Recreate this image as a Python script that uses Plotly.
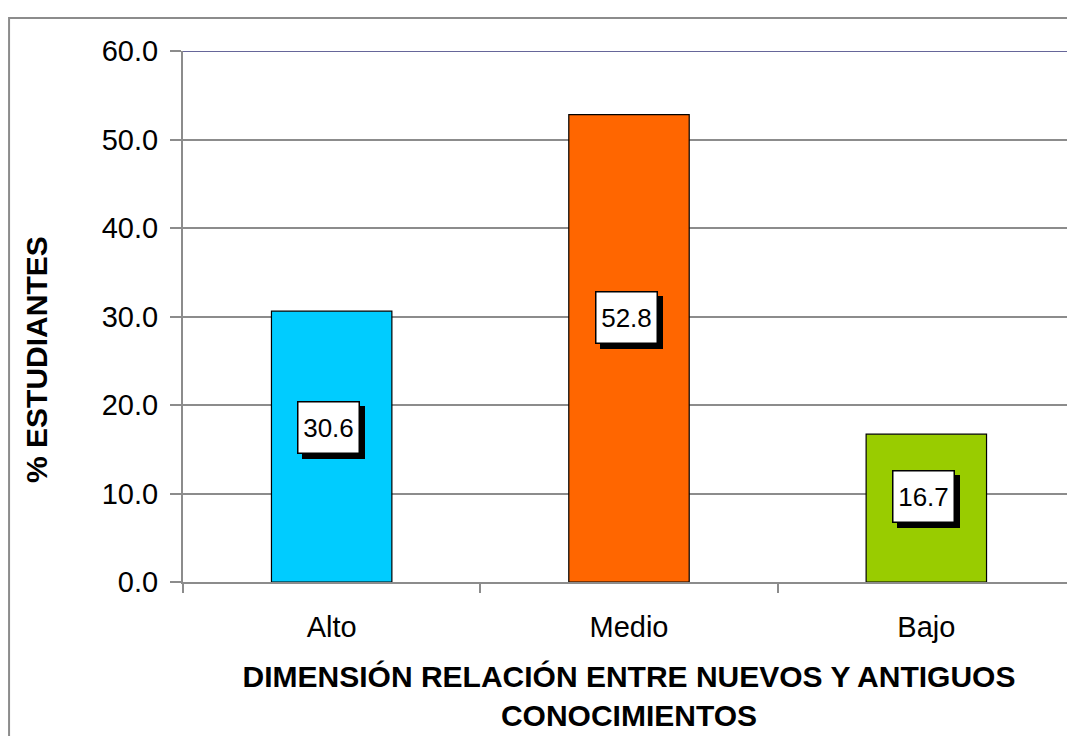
import plotly.graph_objects as go

categories = ["Alto", "Medio", "Bajo"]
values = [30.6, 52.8, 16.7]
colors = ["#00CCFF", "#FF6600", "#99CC00"]
label_texts = ["30.6", "52.8", "16.7"]
y_ticks = [0, 10, 20, 30, 40, 50, 60]

FONT = "Liberation Sans, Arial, sans-serif"

fig = go.Figure()
fig.add_trace(go.Bar(
    x=categories, y=values,
    marker=dict(color=colors, line=dict(color="#000000", width=1.2)),
    width=0.405,
    hoverinfo="skip",
))

annotations = []
for cat, v, t in zip(categories, values, label_texts):
    ly = v * 0.56
    common = dict(x=cat, y=ly, xref="x", yref="y", text=t, showarrow=False,
                  font=dict(family=FONT, size=26, color="#000000"),
                  width=58, height=48, borderwidth=1.5, borderpad=1,
                  bordercolor="#000000")
    # shadow
    annotations.append(dict(common, bgcolor="#000000", xshift=2, yshift=-2))
    annotations.append(dict(common, bgcolor="#FFFFFF", xshift=-3, yshift=3))

annotations.append(dict(
    xref="paper", yref="paper", x=-0.1637, y=0.42,
    text="<b>% ESTUDIANTES</b>", textangle=-90, showarrow=False,
    font=dict(size=30, family=FONT, color="#000000"),
    xanchor="center", yanchor="middle",
))

fig.update_layout(
    width=1067, height=728,
    margin=dict(l=175, r=0, t=43, b=154),
    paper_bgcolor="white", plot_bgcolor="white",
    showlegend=False,
    font=dict(family=FONT, color="#000000"),
    annotations=annotations,
    shapes=[
        dict(type="rect", xref="paper", yref="paper",
             x0=-0.195, x1=1.2, y0=-0.6, y1=1.062,
             line=dict(color="#8c8c8c", width=2), fillcolor="rgba(0,0,0,0)", layer="below"),
        dict(type="line", xref="paper", yref="y", x0=0, x1=1, y0=60, y1=60,
             line=dict(color="#666699", width=2)),
    ],
)

fig.update_xaxes(
    type="category",
    tickson="boundaries",
    ticks="outside", ticklen=9, tickwidth=2, tickcolor="#8c8c8c",
    showline=True, linecolor="#8c8c8c", linewidth=2,
    showgrid=False,
    tickfont=dict(size=29, family=FONT),
    ticklabelstandoff=18,
    title=dict(text="<b>DIMENSIÓN RELACIÓN ENTRE NUEVOS Y ANTIGUOS<br>CONOCIMIENTOS</b>",
               font=dict(size=30, family=FONT), standoff=24),
)
fig.update_yaxes(
    range=[0, 60],
    tickvals=y_ticks,
    tickformat=".1f",
    ticks="outside", ticklen=11, tickwidth=2, tickcolor="#8c8c8c",
    showline=True, linecolor="#8c8c8c", linewidth=2,
    showgrid=True, gridcolor="#8c8c8c", gridwidth=2,
    zeroline=False,
    tickfont=dict(size=29, family=FONT),
    ticklabelstandoff=6,
)

fig.write_html("out.html")
